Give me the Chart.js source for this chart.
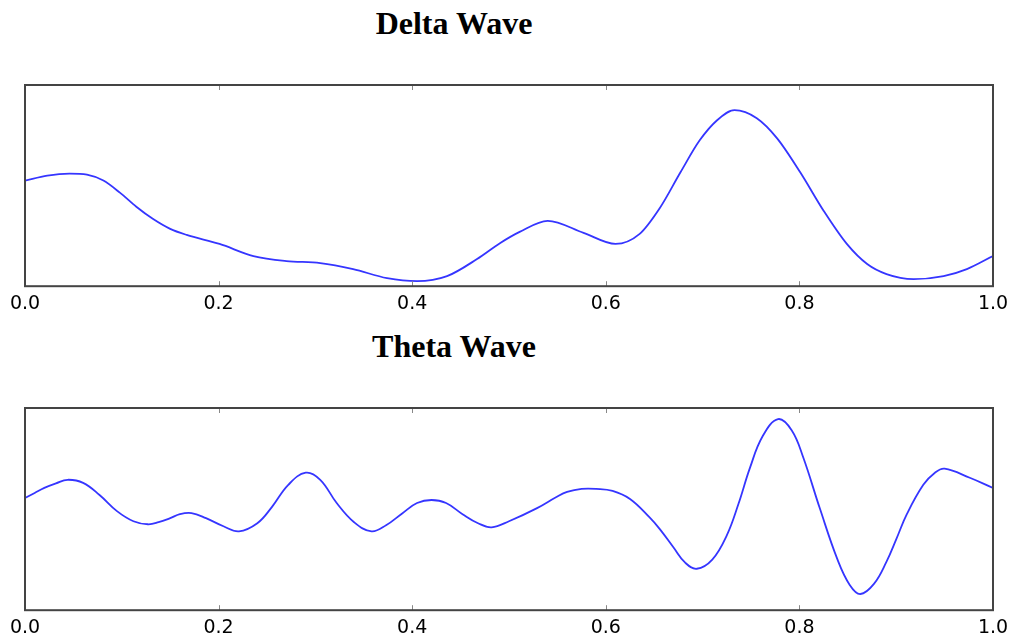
<!DOCTYPE html>
<html>
<head>
<meta charset="utf-8">
<script src="https://cdn.jsdelivr.net/npm/chart.js@4.4.0/dist/chart.umd.min.js"></script>
<style>
  html, body { margin: 0; padding: 0; background: #fff; }
  body { width: 1015px; height: 636px; position: relative; overflow: hidden; }
  .title {
    position: absolute; left: 254px; width: 400px; text-align: center;
    font-family: "Liberation Serif", "Times New Roman", serif;
    font-weight: bold; font-size: 32px; color: #000;
  }
  .box { position: absolute; left: 0; width: 1015px; }
</style>
</head>
<body>
<div class="title" style="top:5px;">Delta Wave</div>
<div class="box" style="top:60px;height:268px;"><canvas id="delta"></canvas></div>
<div class="title" style="top:328px;">Theta Wave</div>
<div class="box" style="top:383px;height:262px;"><canvas id="theta"></canvas></div>
<script>
// time (fraction of window) and amplitude
const deltaTime = [0.0, 0.023, 0.046, 0.064, 0.081, 0.098, 0.115, 0.132, 0.150, 0.167, 0.201, 0.236, 0.270, 0.305, 0.339, 0.374, 0.405, 0.436, 0.467, 0.491, 0.511, 0.540, 0.577, 0.610, 0.635, 0.656, 0.677, 0.697, 0.715, 0.733, 0.756, 0.777, 0.801, 0.825, 0.849, 0.870, 0.890, 0.918, 0.949, 0.973, 1.0];
const deltaAmp = [0.05, 0.10, 0.12, 0.11, 0.05, -0.07, -0.21, -0.33, -0.43, -0.49, -0.58, -0.70, -0.75, -0.77, -0.83, -0.92, -0.95, -0.90, -0.73, -0.57, -0.46, -0.35, -0.47, -0.58, -0.48, -0.22, 0.13, 0.45, 0.65, 0.75, 0.67, 0.47, 0.13, -0.25, -0.58, -0.78, -0.88, -0.93, -0.90, -0.83, -0.70];

const thetaTime = [0.0, 0.01, 0.02, 0.032, 0.044, 0.06, 0.077, 0.095, 0.112, 0.127, 0.138, 0.15, 0.16, 0.172, 0.187, 0.205, 0.221, 0.24, 0.255, 0.272, 0.29, 0.305, 0.322, 0.34, 0.358, 0.373, 0.39, 0.405, 0.42, 0.435, 0.452, 0.468, 0.482, 0.50, 0.529, 0.549, 0.56, 0.575, 0.59, 0.607, 0.625, 0.645, 0.656, 0.67, 0.682, 0.694, 0.71, 0.725, 0.737, 0.749, 0.762, 0.778, 0.792, 0.804, 0.821, 0.839, 0.852, 0.863, 0.877, 0.890, 0.90, 0.911, 0.928, 0.94, 0.950, 0.976, 1.0];
const thetaAmp = [0.11, 0.16, 0.21, 0.255, 0.29, 0.26, 0.14, -0.02, -0.12, -0.15, -0.13, -0.09, -0.05, -0.04, -0.09, -0.17, -0.22, -0.14, 0.02, 0.24, 0.36, 0.29, 0.06, -0.13, -0.22, -0.16, -0.04, 0.06, 0.09, 0.06, -0.05, -0.14, -0.18, -0.12, 0.01, 0.12, 0.17, 0.20, 0.20, 0.18, 0.10, -0.08, -0.20, -0.38, -0.53, -0.59, -0.50, -0.26, 0.05, 0.41, 0.72, 0.89, 0.78, 0.51, 0.01, -0.49, -0.75, -0.84, -0.74, -0.52, -0.30, -0.05, 0.24, 0.36, 0.40, 0.31, 0.21];

const xTicks = [0, 0.2, 0.4, 0.6, 0.8, 1.0];

const framePlugin = {
    id: 'frame',
    afterDatasetsDraw(chart) {
        const a = chart.chartArea;
        const ctx = chart.ctx;
        const xs = chart.scales.x;
        ctx.save();
        ctx.strokeStyle = '#888';
        ctx.lineWidth = 1;
        xTicks.forEach(t => {
            const px = Math.round(xs.getPixelForValue(t)) + 0.5;
            ctx.beginPath();
            ctx.moveTo(px, a.top); ctx.lineTo(px, a.top + 5);
            ctx.moveTo(px, a.bottom); ctx.lineTo(px, a.bottom - 5);
            ctx.stroke();
        });
        ctx.strokeStyle = '#444';
        ctx.lineWidth = 2;
        ctx.strokeRect(a.left, a.top, a.right - a.left, a.bottom - a.top);
        ctx.restore();
    }
};

function createWaveChart(id, time, amp, pad, curve) {
    new Chart(document.getElementById(id), {
        type: 'line',
        data: {
            datasets: [{
                data: time.map((t, i) => ({ x: t, y: amp[i] })),
                borderColor: '#3535ff',
                borderWidth: 1.8,
                pointRadius: 0,
                ...curve,
                fill: false
            }]
        },
        options: {
            responsive: true,
            maintainAspectRatio: false,
            animation: false,
            layout: { padding: pad },
            plugins: { legend: { display: false }, tooltip: { enabled: false } },
            scales: {
                x: {
                    type: 'linear',
                    min: 0, max: 1,
                    afterBuildTicks: scale => { scale.ticks = xTicks.map(v => ({ value: v })); },
                    grid: { display: false, drawTicks: false },
                    border: { display: false },
                    ticks: {
                        padding: 6,
                        color: '#000',
                        maxRotation: 0,
                        font: { family: 'DejaVu Sans', size: 19 },
                        callback: v => Number(v).toFixed(1)
                    }
                },
                y: { display: false, min: -1, max: 1 }
            }
        },
        plugins: [framePlugin]
    });
}

createWaveChart('delta', deltaTime, deltaAmp, { left: 25, right: 22, top: 25, bottom: 7 }, { cubicInterpolationMode: 'monotone' });
createWaveChart('theta', thetaTime, thetaAmp, { left: 25, right: 22, top: 25, bottom: 0 }, { tension: 0.4 });
</script>
</body>
</html>
